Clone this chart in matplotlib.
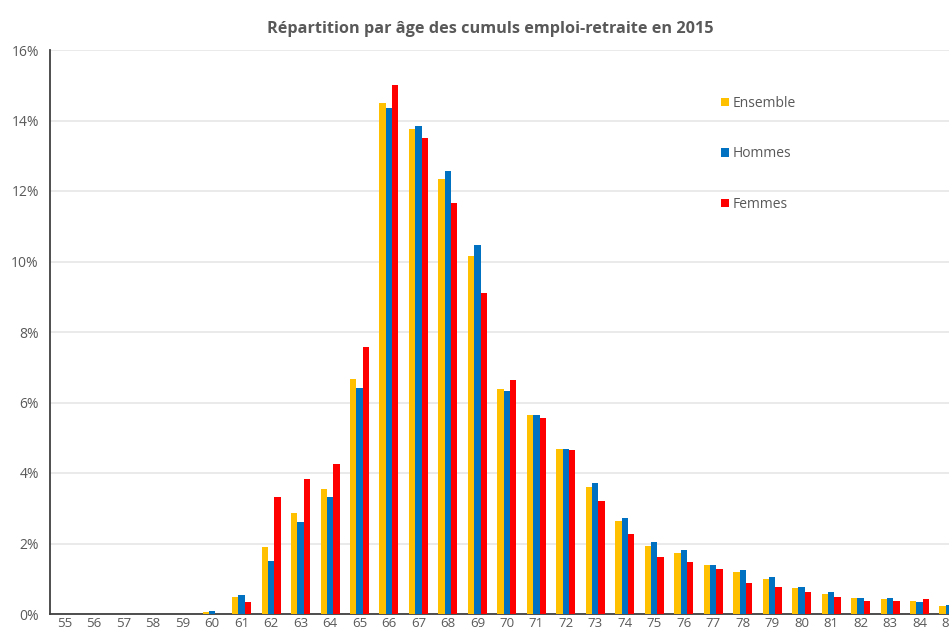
import matplotlib
matplotlib.use("Agg")
import matplotlib.pyplot as plt
import numpy as np

ages = list(range(55, 86))
ensemble = [0, 0, 0, 0, 0, 0.05, 0.49, 1.91, 2.87, 3.55, 6.68, 14.51, 13.76, 12.34, 10.16,
            6.38, 5.65, 4.67, 3.60, 2.64, 1.94, 1.74, 1.38, 1.18, 1.00, 0.73, 0.58, 0.44,
            0.42, 0.38, 0.23]
hommes = [0, 0, 0, 0, 0, 0.08, 0.53, 1.51, 2.60, 3.32, 6.41, 14.36, 13.85, 12.57, 10.48,
          6.32, 5.65, 4.67, 3.72, 2.73, 2.03, 1.82, 1.40, 1.26, 1.05, 0.77, 0.61, 0.45,
          0.44, 0.35, 0.26]
femmes = [0, 0, 0, 0, 0, 0.0, 0.35, 3.32, 3.84, 4.26, 7.57, 15.01, 13.49, 11.67, 9.10,
          6.64, 5.57, 4.65, 3.20, 2.28, 1.63, 1.48, 1.28, 0.89, 0.78, 0.61, 0.49, 0.36,
          0.36, 0.42, 0.20]
series_names = ["Ensemble", "Hommes", "Femmes"]
colors = ["#FFC000", "#0070C0", "#FF0000"]
title = "Répartition par âge des cumuls emploi-retraite en 2015"

plt.rcParams['font.family'] = ['Open Sans', 'DejaVu Sans']
grey = "#595959"

fig = plt.figure(figsize=(9.49, 6.35), dpi=100)
ax = fig.add_axes([50 / 949, 21 / 635, 1 - 50 / 949, (614 - 50) / 635])

x = np.array(ages, dtype=float)
w = 0.215
for i, (vals, name, c) in enumerate(zip([ensemble, hommes, femmes], series_names, colors)):
    ax.bar(x + (i - 1) * w, vals, width=w, color=c, label=name, zorder=3, linewidth=0)

ax.set_xlim(54.5, 85.0)
ax.set_ylim(0, 16)
ax.set_yticks(np.arange(0, 17, 2))
ax.set_yticklabels([f"{v}%" for v in range(0, 17, 2)])
ax.set_xticks(ages)
ax.set_xticklabels([str(a) for a in ages])
ax.tick_params(axis='both', length=0, labelsize=10, labelcolor=grey)
ax.tick_params(axis='x', pad=2.5, labelsize=9.5)
ax.tick_params(axis='y', pad=8)
ax.grid(axis='y', color="#e6e6e6", linewidth=1.2, zorder=0)
ax.set_axisbelow(True)
for s in ['top', 'right']:
    ax.spines[s].set_visible(False)
for s in ['left', 'bottom']:
    ax.spines[s].set_color("#404040")
    ax.spines[s].set_linewidth(1.3)

leg = ax.legend(loc='upper left', frameon=False, fontsize=10,
                handlelength=0.55, handleheight=0.55, handletextpad=0.3,
                labelspacing=2.55, borderpad=0, borderaxespad=0)
leg.set_bbox_to_anchor(((721 - 50) / 899, 1 - (96 - 50) / 564), transform=ax.transAxes)
for t in leg.get_texts():
    t.set_color(grey)

fig.text(490 / 949, 1 - 29 / 635, title, ha='center', va='center', fontsize=11.7,
         fontweight='bold', color=grey)

fig.savefig("out.png", dpi=100)
